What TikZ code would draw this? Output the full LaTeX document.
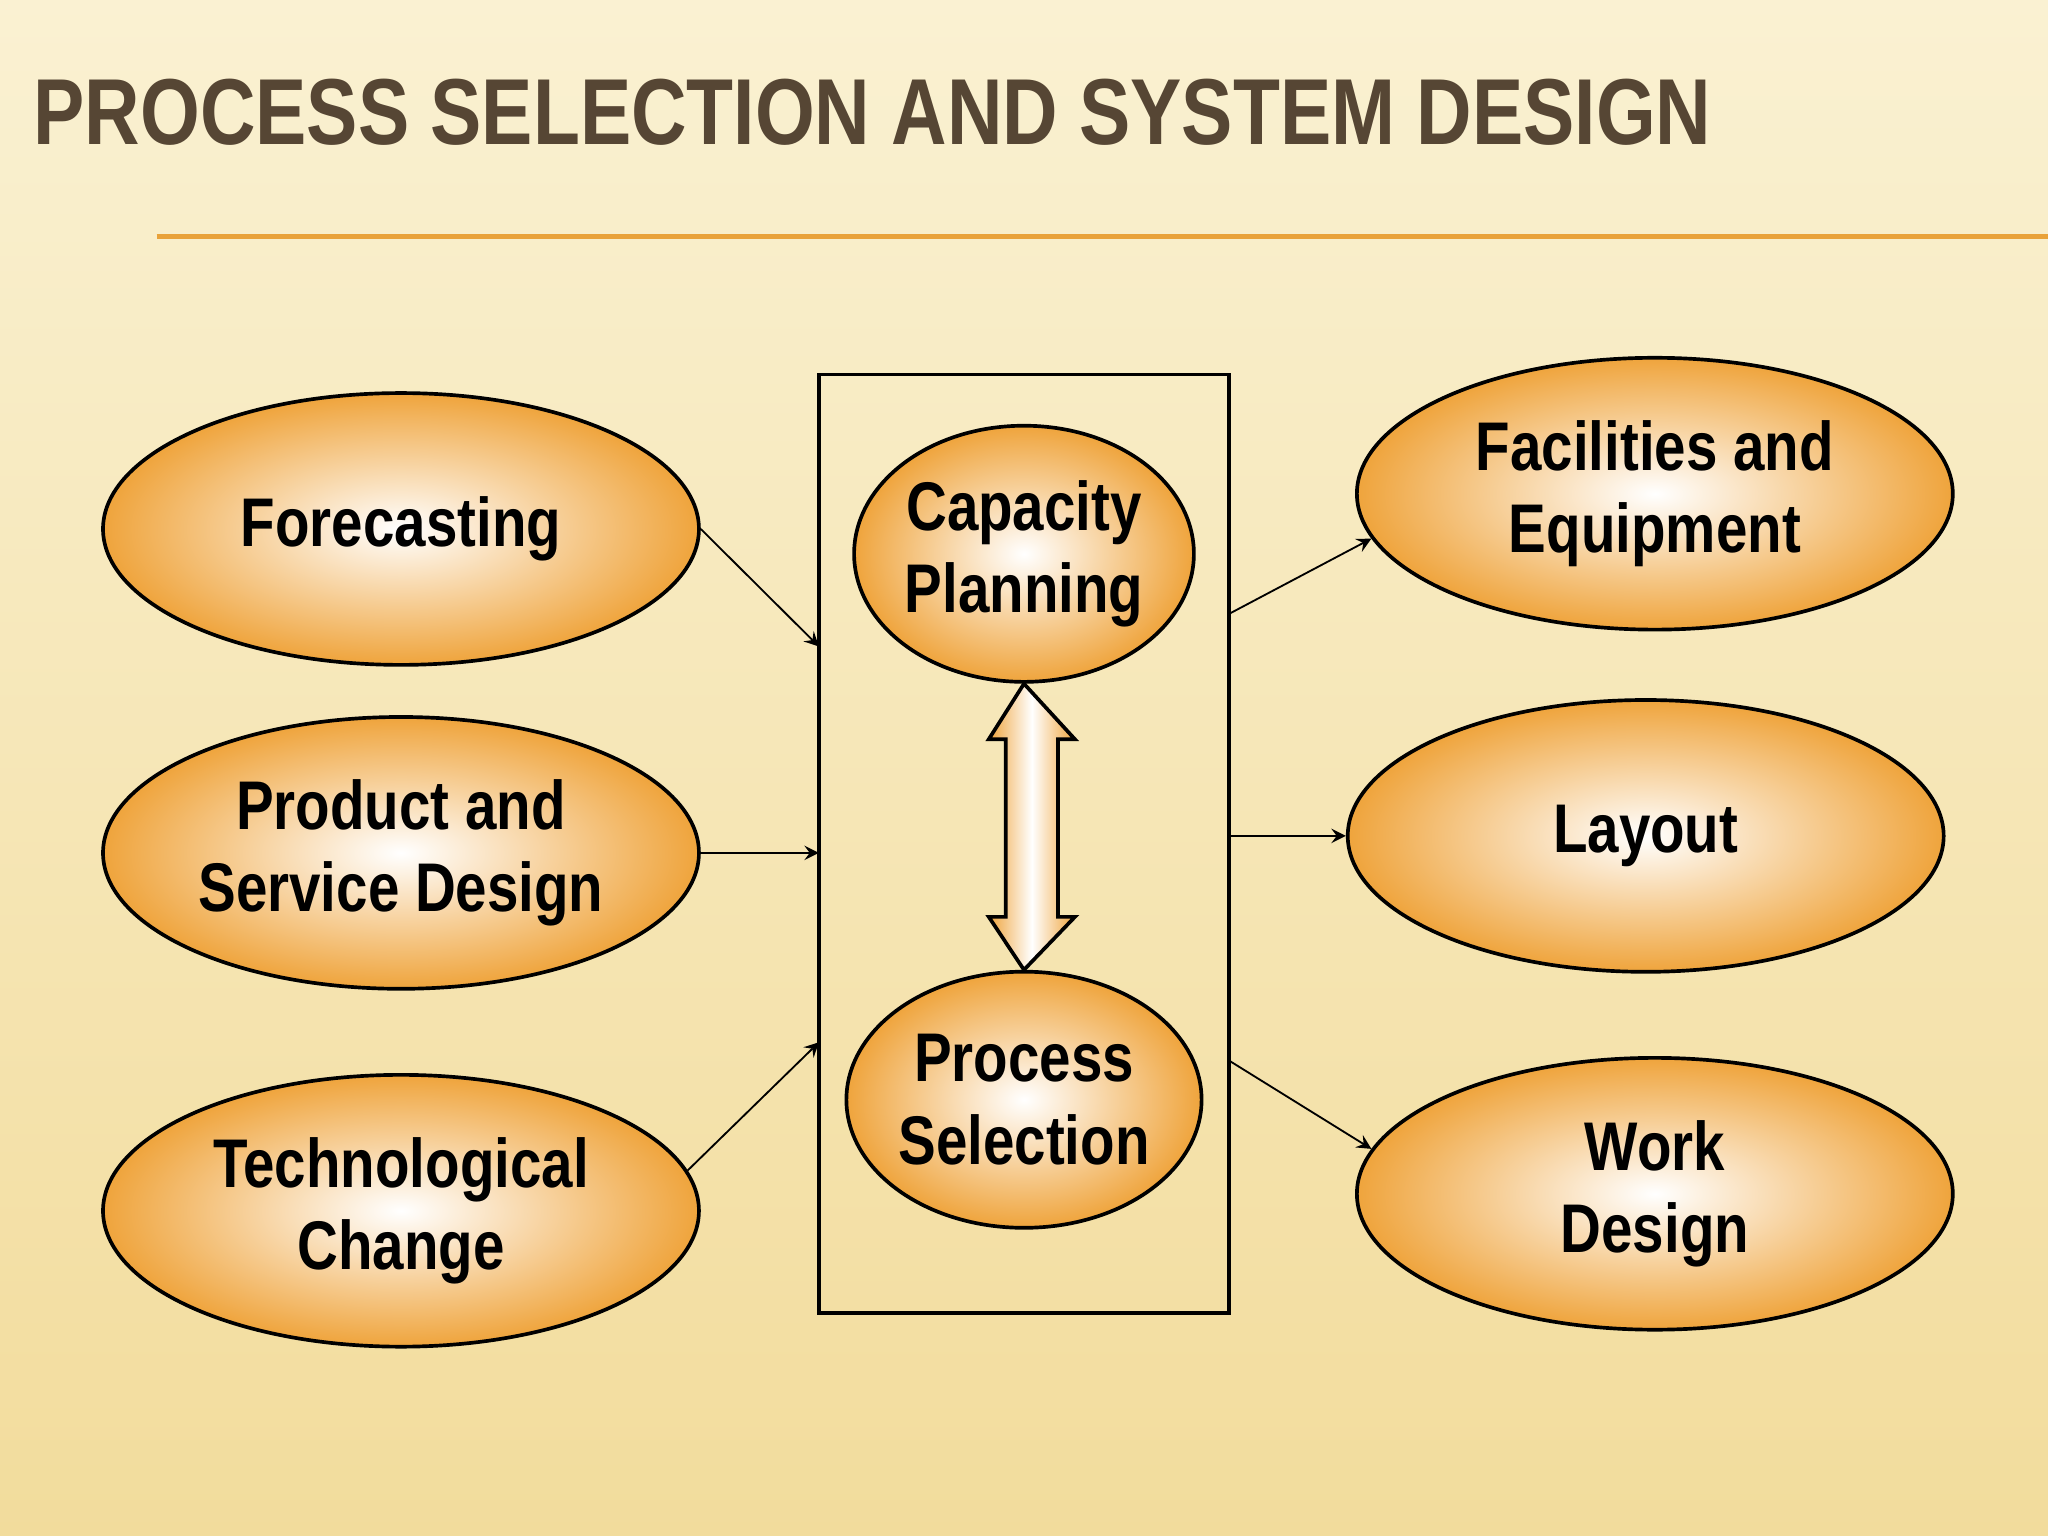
\documentclass[tikz,border=0pt]{standalone}
\usepackage{fontspec}
\setsansfont[FakeStretch=0.82]{Liberation Sans}
\usetikzlibrary{shapes.geometric,calc,arrows}
\definecolor{bgtop}{HTML}{FAF1D2}
\definecolor{bgbot}{HTML}{F2DC9C}
\definecolor{ovalorange}{HTML}{EFA43C}
\definecolor{titlebrown}{HTML}{564634}
\definecolor{rulecol}{HTML}{E9A23A}
\tikzset{
  oval/.style={ellipse, draw=black, thick, inner color=white, outer color=ovalorange,
    minimum width=4.56cm, minimum height=2.08cm, align=center, inner sep=0pt,
    font=\sffamily\bfseries\fontsize{15}{18}\selectfont},
  roundbox/.style={oval, minimum width=2.6cm, minimum height=1.96cm},
  flow/.style={->, >=stealth, thin}
}
\begin{document}
\begin{tikzpicture}[x=0.01cm,y=-0.01cm]
  % background
  \shade[top color=bgtop, bottom color=bgbot] (0,0) rectangle (1568,1176);
  \useasboundingbox (0,0) rectangle (1568,1176);
  % title
  \node[anchor=south west, inner sep=0, text=titlebrown,
    font=\sffamily\bfseries\fontsize{20.4}{24}\selectfont] (title) at (25,112) {PROCESS SELECTION AND SYSTEM DESIGN};
  \coordinate (rulel) at (120,181);
  \coordinate (ruler) at (1568,181);
  \draw[rulecol, line width=1.2pt] (rulel) -- (ruler);
  % Nodes
  \node[draw, thick, minimum width=3.14cm, minimum height=7.18cm, inner sep=0](box) at (784,646) {};
  \node[roundbox](cp) at (784,424) {Capacity\\Planning};
  \node[roundbox](ps) at (784,842) {Process\\Selection};
  \node[oval](fc) at (307,405) {Forecasting};
  \node[oval](pd) at (307,653) {Product and\\Service Design};
  \node[oval](tc) at (307,927) {Technological\\Change};
  \node[oval](fe) at (1267,378) {Facilities and\\Equipment};
  \node[oval](ly) at (1260,640) {Layout};
  \node[oval](wd) at (1267,914) {Work\\Design};
  % fat double arrow
  \shade[draw=black, thick, left color=ovalorange, right color=ovalorange, middle color=white]
    (cp.south) -- (823,566) -- (810,566) -- (810,702) -- (823,702) -- (ps.north)
    -- (757,702) -- (770,702) -- (770,566) -- (757,566) -- cycle;
  % Edges
  \coordinate (in1) at (627,495);
  \coordinate (in2) at (627,653);
  \coordinate (in3) at (627,798);
  \coordinate (out1) at (941,470);
  \coordinate (out2) at (941,640);
  \coordinate (out3) at (941,812);
  \draw[flow] (fc.east) -- (in1);
  \draw[flow] (pd.east) -- (in2);
  \draw[flow] (tc.8) -- (in3);
  \draw[flow] (out1) -- (fe.189);
  \draw[flow] (out2) -- (ly.west);
  \draw[flow] (out3) -- (wd.171);
\end{tikzpicture}
\end{document}
